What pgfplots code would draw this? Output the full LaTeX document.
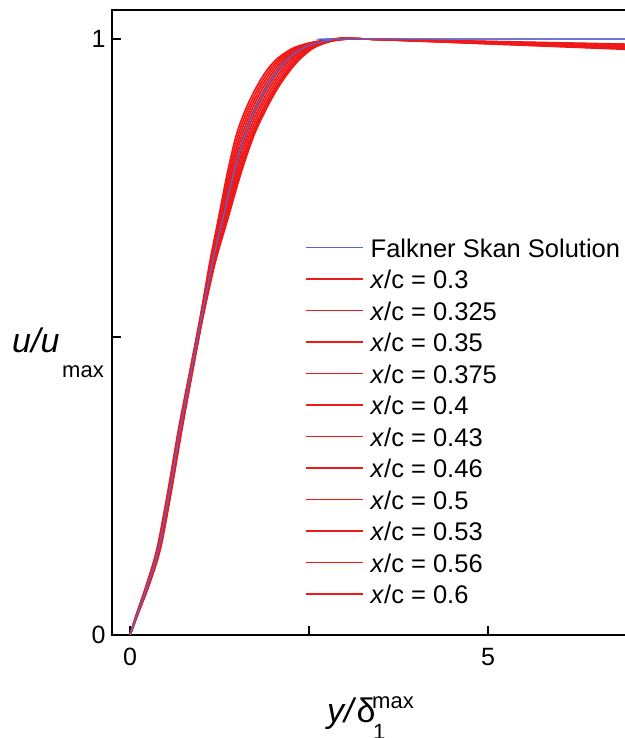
\documentclass[border=0pt]{standalone}
\usepackage{fontspec}
\setmainfont{Liberation Sans}
\usepackage{pgfplots}
\pgfplotsset{compat=1.18}
\definecolor{fsblue}{RGB}{90,100,205}
\definecolor{expred}{RGB}{240,25,25}
\tikzset{redline/.style={color=expred, line width=1.7pt, mark=none, smooth, tension=0.5}}
\begin{document}
\begin{tikzpicture}
\begin{axis}[
  scale only axis,
  width=555pt, height=625pt,
  xmin=-0.2514, xmax=7.5,
  ymin=0, ymax=1.0487,
  axis line style={line width=2.4pt},
  every tick/.style={black, line width=2pt},
  major tick length=9pt,
  tick align=inside,
  xtick={0,2.5,5,7.5}, xticklabels={0,,5,},
  ytick={0,0.5,1}, yticklabels={0,,1},
  xtick pos=bottom, ytick pos=left,
  minor tick num=0,
  /pgf/number format/assume math mode=true,
  tick label style={font=\fontsize{25}{25}\selectfont},
  xticklabel style={yshift=-10pt},
  yticklabel style={xshift=-3pt},
  legend cell align=left,
  legend style={draw=none, fill=none, at={(0.3477,0.6352)}, anchor=north west,
    inner sep=0pt, row sep=6.5pt, column sep=7pt,
    font=\fontsize{25.5}{25.5}\selectfont,
    nodes={inner sep=0pt, text height=19pt, text depth=6pt}},
  legend image code/.code={\draw[#1, line width=1.5pt] (0pt,3.2pt) -- (57pt,3.2pt);},
]
% Falkner Skan solution (legend entry)
\addplot[color=fsblue, line width=1.3pt, mark=none, smooth, tension=0.5] coordinates {
(0,0) (0.1,0.035) (0.25,0.085) (0.4,0.145) (0.55,0.24) (0.7,0.345) (0.85,0.44) (1.0,0.534) (1.15,0.625) (1.3,0.70) (1.45,0.775) (1.6,0.838) (1.75,0.882) (1.9,0.917) (2.05,0.945) (2.2,0.966) (2.4,0.984) (2.6,0.993) (2.8,0.998) (3.0,1.0) (7.5,1.0)};
\addlegendentry{Falkner Skan Solution}
\addplot[redline] coordinates {(0,0) (0.091,0.035) (0.232,0.085) (0.378,0.145) (0.528,0.24) (0.678,0.345) (0.832,0.44) (0.982,0.534) (1.114,0.625) (1.237,0.70) (1.36,0.775) (1.483,0.838) (1.615,0.882) (1.756,0.917) (1.897,0.945) (2.047,0.966) (2.265,0.984) (2.492,0.993) (2.728,0.998) (2.955,1.0) (3.3,1.0) (7.5,0.988)};
\addlegendentry{\textit{x}/c = 0.3}
\addplot[redline] coordinates {(0,0) (0.093,0.035) (0.236,0.085) (0.383,0.145) (0.533,0.24) (0.683,0.345) (0.836,0.44) (0.986,0.534) (1.122,0.625) (1.251,0.70) (1.38,0.775) (1.509,0.838) (1.645,0.882) (1.788,0.917) (1.931,0.945) (2.081,0.966) (2.295,0.984) (2.516,0.993) (2.744,0.998) (2.965,1.0) (3.3,1.0) (7.5,0.982)};
\addlegendentry{\textit{x}/c = 0.325}
\addplot[redline] coordinates {(0,0) (0.095,0.035) (0.24,0.085) (0.388,0.145) (0.538,0.24) (0.688,0.345) (0.84,0.44) (0.99,0.534) (1.13,0.625) (1.265,0.70) (1.4,0.775) (1.535,0.838) (1.675,0.882) (1.82,0.917) (1.965,0.945) (2.115,0.966) (2.325,0.984) (2.54,0.993) (2.76,0.998) (2.975,1.0) (3.3,1.0) (7.5,0.990)};
\addlegendentry{\textit{x}/c = 0.35}
\addplot[redline] coordinates {(0,0) (0.097,0.035) (0.244,0.085) (0.393,0.145) (0.543,0.24) (0.693,0.345) (0.844,0.44) (0.994,0.534) (1.138,0.625) (1.279,0.70) (1.42,0.775) (1.561,0.838) (1.705,0.882) (1.852,0.917) (1.999,0.945) (2.149,0.966) (2.355,0.984) (2.564,0.993) (2.776,0.998) (2.985,1.0) (3.3,1.0) (7.5,0.984)};
\addlegendentry{\textit{x}/c = 0.375}
\addplot[redline] coordinates {(0,0) (0.099,0.035) (0.248,0.085) (0.398,0.145) (0.548,0.24) (0.698,0.345) (0.848,0.44) (0.998,0.534) (1.146,0.625) (1.293,0.70) (1.44,0.775) (1.587,0.838) (1.735,0.882) (1.884,0.917) (2.033,0.945) (2.183,0.966) (2.385,0.984) (2.588,0.993) (2.792,0.998) (2.995,1.0) (3.3,1.0) (7.5,0.986)};
\addlegendentry{\textit{x}/c = 0.4}
\addplot[redline] coordinates {(0,0) (0.101,0.035) (0.252,0.085) (0.403,0.145) (0.553,0.24) (0.703,0.345) (0.852,0.44) (1.002,0.534) (1.154,0.625) (1.307,0.70) (1.46,0.775) (1.613,0.838) (1.765,0.882) (1.916,0.917) (2.067,0.945) (2.217,0.966) (2.415,0.984) (2.612,0.993) (2.808,0.998) (3.005,1.0) (3.3,1.0) (7.5,0.980)};
\addlegendentry{\textit{x}/c = 0.43}
\addplot[redline] coordinates {(0,0) (0.103,0.035) (0.256,0.085) (0.408,0.145) (0.558,0.24) (0.708,0.345) (0.856,0.44) (1.006,0.534) (1.162,0.625) (1.321,0.70) (1.48,0.775) (1.639,0.838) (1.795,0.882) (1.948,0.917) (2.101,0.945) (2.251,0.966) (2.445,0.984) (2.636,0.993) (2.824,0.998) (3.015,1.0) (3.3,1.0) (7.5,0.989)};
\addlegendentry{\textit{x}/c = 0.46}
\addplot[redline] coordinates {(0,0) (0.105,0.035) (0.26,0.085) (0.413,0.145) (0.563,0.24) (0.713,0.345) (0.86,0.44) (1.01,0.534) (1.17,0.625) (1.335,0.70) (1.5,0.775) (1.665,0.838) (1.825,0.882) (1.98,0.917) (2.135,0.945) (2.285,0.966) (2.475,0.984) (2.66,0.993) (2.84,0.998) (3.025,1.0) (3.3,1.0) (7.5,0.983)};
\addlegendentry{\textit{x}/c = 0.5}
\addplot[redline] coordinates {(0,0) (0.107,0.035) (0.264,0.085) (0.418,0.145) (0.568,0.24) (0.718,0.345) (0.864,0.44) (1.014,0.534) (1.178,0.625) (1.349,0.70) (1.52,0.775) (1.691,0.838) (1.855,0.882) (2.012,0.917) (2.169,0.945) (2.319,0.966) (2.505,0.984) (2.684,0.993) (2.856,0.998) (3.035,1.0) (3.3,1.0) (7.5,0.987)};
\addlegendentry{\textit{x}/c = 0.53}
\addplot[redline] coordinates {(0,0) (0.109,0.035) (0.267,0.085) (0.421,0.145) (0.571,0.24) (0.721,0.345) (0.867,0.44) (1.017,0.534) (1.184,0.625) (1.36,0.70) (1.535,0.775) (1.711,0.838) (1.878,0.882) (2.036,0.917) (2.195,0.945) (2.345,0.966) (2.528,0.984) (2.702,0.993) (2.868,0.998) (3.043,1.0) (3.3,1.0) (7.5,0.981)};
\addlegendentry{\textit{x}/c = 0.56}
\addplot[redline] coordinates {(0,0) (0.11,0.035) (0.27,0.085) (0.425,0.145) (0.575,0.24) (0.725,0.345) (0.87,0.44) (1.02,0.534) (1.19,0.625) (1.37,0.70) (1.55,0.775) (1.73,0.838) (1.9,0.882) (2.06,0.917) (2.22,0.945) (2.37,0.966) (2.55,0.984) (2.72,0.993) (2.88,0.998) (3.05,1.0) (3.3,1.0) (7.5,0.985)};
\addlegendentry{\textit{x}/c = 0.6}
% Falkner Skan solution drawn again on top
\addplot[color=fsblue, line width=1.3pt, mark=none, smooth, tension=0.5, forget plot] coordinates {
(0,0) (0.1,0.035) (0.25,0.085) (0.4,0.145) (0.55,0.24) (0.7,0.345) (0.85,0.44) (1.0,0.534) (1.15,0.625) (1.3,0.70) (1.45,0.775) (1.6,0.838) (1.75,0.882) (1.9,0.917) (2.05,0.945) (2.2,0.966) (2.4,0.984) (2.6,0.993) (2.8,0.998) (3.0,1.0) (7.5,1.0)};
\end{axis}
\node[anchor=base west, inner sep=0pt, font=\fontsize{34}{34}\selectfont] at (-100pt,282pt) {\textit{u/u}};
\node[anchor=base west, inner sep=0pt, font=\fontsize{22}{22}\selectfont] at (-50pt,257pt) {max};
\node[anchor=base west, inner sep=0pt, font=\fontsize{34}{34}\selectfont] at (215pt,-87pt) {\textit{y/}δ};
\node[anchor=base west, inner sep=0pt, font=\fontsize{22}{22}\selectfont] at (260pt,-73pt) {max};
\node[anchor=base west, inner sep=0pt, font=\fontsize{22}{22}\selectfont] at (261pt,-104pt) {1};
\pgfresetboundingbox
\useasboundingbox (-112pt,-103pt) rectangle (512pt,635pt);
\end{tikzpicture}
\end{document}
